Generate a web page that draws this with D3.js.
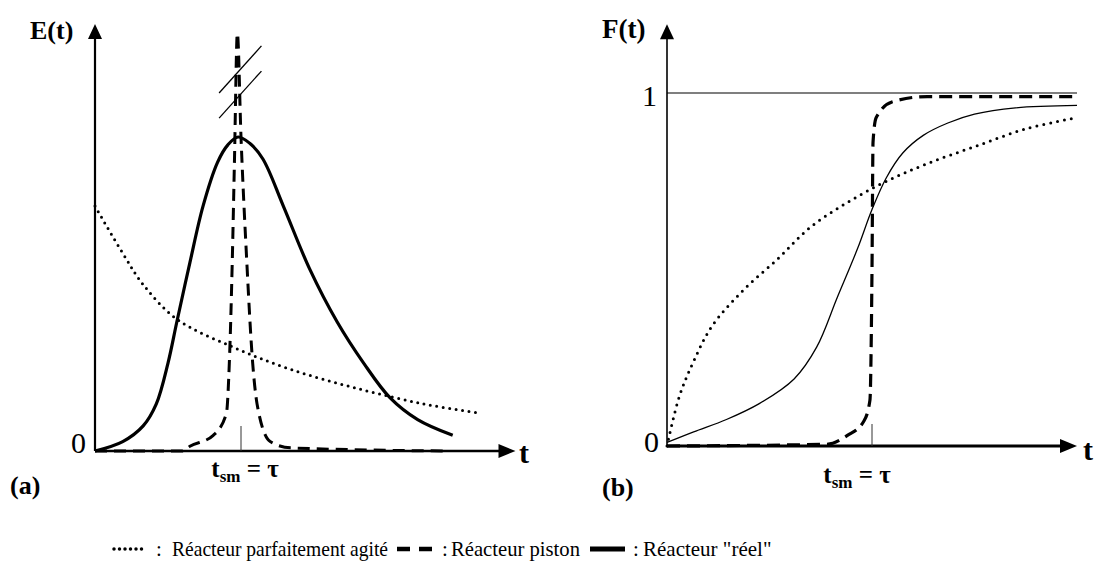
<!DOCTYPE html>
<html>
<head>
<script src="https://cdn.jsdelivr.net/npm/d3@7"></script>
</head>
<body style="margin:0">
<script>
// courbes, t en unités de tau
const eAgite = [[0,0.78],[0.19,0.63],[0.33,0.53],[0.56,0.42],[0.95,0.33],[1.34,0.26],[1.79,0.20],[2.25,0.15],[2.64,0.12]];
const ePiston = [[0,0],[0.6,0],[0.65,0.015],[0.81,0.05],[0.9,0.12],[0.92,0.28],[0.94,0.6],[0.955,0.92],[0.975,1.33],[1.0,1.0],[1.04,0.6],[1.08,0.28],[1.11,0.15],[1.2,0.03],[1.34,0.01],[2.4,0]];
const eReel = [[0,0],[0.19,0.03],[0.33,0.08],[0.42,0.15],[0.5,0.28],[0.56,0.41],[0.65,0.60],[0.74,0.78],[0.84,0.92],[0.91,0.975],[0.98,1.0],[1.06,0.98],[1.15,0.93],[1.29,0.78],[1.47,0.58],[1.66,0.41],[1.84,0.28],[2.02,0.17],[2.21,0.10],[2.45,0.05]];

const fAgite = [[0,0],[0.06,0.14],[0.13,0.24],[0.22,0.34],[0.37,0.44],[0.54,0.53],[0.70,0.62],[0.88,0.69],[1.07,0.75],[1.27,0.80],[1.51,0.85],[1.76,0.90],[2.0,0.93]];
const fPiston = [[0,0],[0.78,0.005],[0.88,0.03],[0.96,0.07],[0.99,0.13],[1.0,0.5],[1.005,0.86],[1.02,0.93],[1.10,0.975],[1.27,0.99],[2.0,0.99]];
const fReel = [[0,0.01],[0.13,0.04],[0.29,0.075],[0.45,0.12],[0.62,0.19],[0.73,0.28],[0.83,0.42],[0.93,0.56],[1.0,0.67],[1.07,0.76],[1.15,0.83],[1.25,0.88],[1.37,0.915],[1.5,0.94],[1.7,0.958],[2.0,0.965]];

const tauTick = [1];
const fLevel = [1];
const legendItems = ["Réacteur parfaitement agité", "Réacteur piston", "Réacteur \"réel\""];

var svg = d3.select("body").append("svg")
  .attr("width", 1096)
  .attr("height", 569)
  .attr("font-family", "Liberation Serif");

// échelles
var xL = d3.scaleLinear().domain([0, 1]).range([95, 241]);
var yL = d3.scaleLinear().domain([0, 1]).range([451, 137]);
var xR = d3.scaleLinear().domain([0, 1]).range([667, 872]);
var yR = d3.scaleLinear().domain([0, 1]).range([446, 93]);

function arrowUp(x, y) {
  svg.append("path").attr("d", `M${x},${y} L${x-7},${y+15} L${x+7},${y+15} Z`).attr("fill", "black");
}
function arrowRight(x, y) {
  svg.append("path").attr("d", `M${x},${y} L${x-17},${y-7} L${x-17},${y+7} Z`).attr("fill", "black");
}
function label(x, y, size, txt) {
  return svg.append("text").attr("x", x).attr("y", y).attr("font-size", size)
    .style("font-family", "Liberation Serif").text(txt);
}

// ---- panneau (a)
svg.append("line").attr("x1", xL(0)).attr("x2", xL(0)).attr("y1", yL(0)).attr("y2", yL(1.36) + 14)
  .attr("stroke", "black").attr("stroke-width", 2.2);
arrowUp(xL(0), yL(1.36));
svg.append("line").attr("x1", xL(0)).attr("x2", xL(2.88) - 16).attr("y1", yL(0)).attr("y2", yL(0))
  .attr("stroke", "black").attr("stroke-width", 2.6);
arrowRight(xL(2.88), yL(0));

// repère t = tau
svg.selectAll(".tickL").data(tauTick).enter().append("line")
  .attr("x1", d => xL(d)).attr("x2", d => xL(d)).attr("y1", yL(0)).attr("y2", yL(0) - 25)
  .attr("stroke", "#333").attr("stroke-width", 1);

var lineL = d3.line().x(d => xL(d[0])).y(d => yL(d[1])).curve(d3.curveMonotoneX);
var smoothL = d3.line().x(d => xL(d[0])).y(d => yL(d[1])).curve(d3.curveCatmullRom.alpha(0.5));

svg.append("path").datum(eAgite).attr("d", smoothL).attr("fill", "none")
  .attr("stroke", "black").attr("stroke-width", 3).attr("stroke-linecap", "round")
  .attr("stroke-dasharray", "0,6.5");
svg.append("path").datum(ePiston).attr("d", lineL).attr("fill", "none")
  .attr("stroke", "black").attr("stroke-width", 3).attr("stroke-dasharray", "12,7");
svg.append("path").datum(eReel).attr("d", smoothL).attr("fill", "none")
  .attr("stroke", "black").attr("stroke-width", 3.2);

// marques de coupure sur le pic
const breakMarks = [[[0.85,1.14],[1.14,1.29]], [[0.85,1.06],[1.14,1.21]]];
svg.selectAll(".brk").data(breakMarks).enter().append("line")
  .attr("x1", d => xL(d[0][0])).attr("y1", d => yL(d[0][1]))
  .attr("x2", d => xL(d[1][0])).attr("y2", d => yL(d[1][1]))
  .attr("stroke", "black").attr("stroke-width", 1.3);

// ---- panneau (b)
svg.append("line").attr("x1", xR(0)).attr("x2", xR(0)).attr("y1", yR(0)).attr("y2", yR(1.195) + 14)
  .attr("stroke", "black").attr("stroke-width", 1.6);
arrowUp(xR(0), yR(1.195));
svg.append("line").attr("x1", xR(0)).attr("x2", xR(2.0) - 16).attr("y1", yR(0)).attr("y2", yR(0))
  .attr("stroke", "black").attr("stroke-width", 3);
arrowRight(xR(2.0), yR(0));

svg.selectAll(".lvl").data(fLevel).enter().append("line")
  .attr("x1", xR(0)).attr("x2", xR(2.0)).attr("y1", d => yR(d)).attr("y2", d => yR(d))
  .attr("stroke", "black").attr("stroke-width", 1.2);

svg.selectAll(".tickR").data(tauTick).enter().append("line")
  .attr("x1", d => xR(d)).attr("x2", d => xR(d)).attr("y1", yR(0)).attr("y2", yR(0) - 22)
  .attr("stroke", "#333").attr("stroke-width", 1);

var lineR = d3.line().x(d => xR(d[0])).y(d => yR(d[1])).curve(d3.curveMonotoneX);
var smoothR = d3.line().x(d => xR(d[0])).y(d => yR(d[1])).curve(d3.curveCatmullRom.alpha(0.5));

svg.append("path").datum(fAgite).attr("d", smoothR).attr("fill", "none")
  .attr("stroke", "black").attr("stroke-width", 3).attr("stroke-linecap", "round")
  .attr("stroke-dasharray", "0,7");
svg.append("path").datum(fPiston).attr("d", lineR).attr("fill", "none")
  .attr("stroke", "black").attr("stroke-width", 3.2).attr("stroke-dasharray", "13,7");
svg.append("path").datum(fReel).attr("d", smoothR).attr("fill", "none")
  .attr("stroke", "black").attr("stroke-width", 1.3);

// ---- textes
label(30, 39, 26, "E(t)").style("font-weight", "bold");
label(86, 453, 30, "0").attr("text-anchor", "end");
label(519, 463, 30, "t").style("font-weight", "bold");
label(10, 494, 26, "(a)").style("font-weight", "bold");

label(602, 38, 27, "F(t)").style("font-weight", "bold");
label(659, 452, 30, "0").attr("text-anchor", "end");
label(657, 106, 30, "1").attr("text-anchor", "end");
label(1083, 460, 30, "t").style("font-weight", "bold");
label(602, 496, 26, "(b)").style("font-weight", "bold");

function tsmLabel(x, y) {
  var t = label(x, y, 25, null).attr("text-anchor", "middle").style("font-weight", "bold");
  t.append("tspan").text("t");
  t.append("tspan").attr("font-size", 17).attr("dy", 5).text("sm");
  t.append("tspan").attr("dy", -5).text(" = τ");
}
tsmLabel(xL(1) + 4, 477);
tsmLabel(xR(1) - 15, 483);

// ---- légende
var ly = 549;
svg.append("line").attr("x1", 114).attr("x2", 145).attr("y1", ly).attr("y2", ly)
  .attr("stroke", "black").attr("stroke-width", 3.5).attr("stroke-linecap", "round").attr("stroke-dasharray", "0,5.5");
label(156, 556, 21, ":");
label(172, 556, 21, legendItems[0]).attr("textLength", 216).attr("lengthAdjust", "spacingAndGlyphs");

svg.append("line").attr("x1", 397).attr("x2", 432).attr("y1", ly).attr("y2", ly)
  .attr("stroke", "black").attr("stroke-width", 4.5).attr("stroke-dasharray", "13,9");
label(442, 556, 21, ":");
label(451, 556, 21, legendItems[1]).attr("textLength", 129).attr("lengthAdjust", "spacingAndGlyphs");

svg.append("line").attr("x1", 590).attr("x2", 625).attr("y1", ly).attr("y2", ly)
  .attr("stroke", "black").attr("stroke-width", 5);
label(633, 556, 21, ":");
label(643, 556, 21, legendItems[2]);
</script>
</body>
</html>
